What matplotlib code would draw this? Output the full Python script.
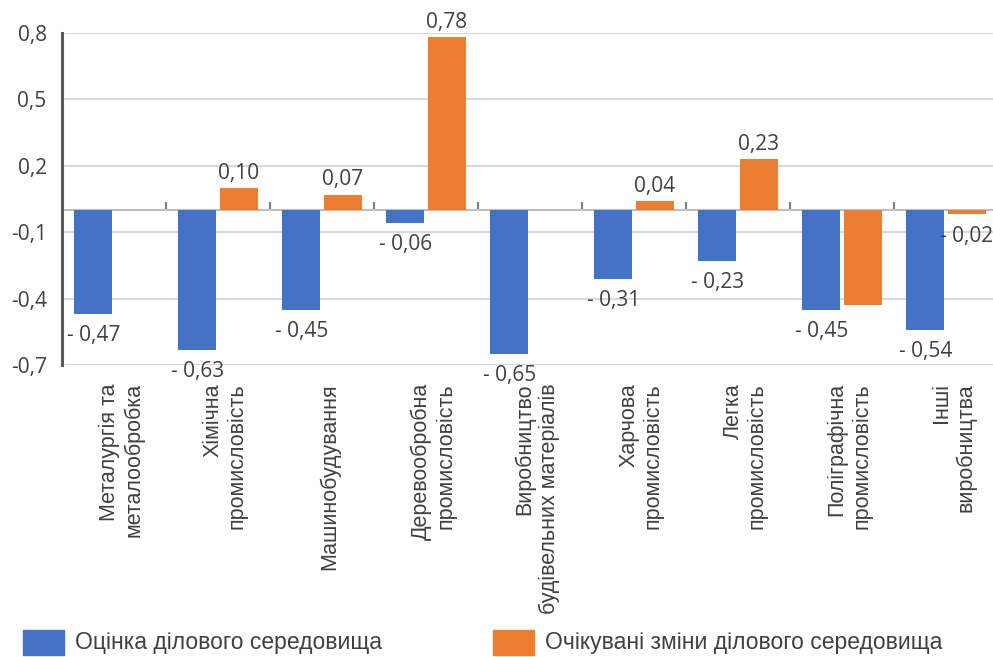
import numpy as np
import matplotlib.pyplot as plt
from matplotlib.patches import Rectangle

categories = [
    "Металургія та\nметалообробка",
    "Хімічна\nпромисловість",
    "Машинобудування",
    "Деревообробна\nпромисловість",
    "Виробництво\nбудівельних матеріалів",
    "Харчова\nпромисловість",
    "Легка\nпромисловість",
    "Поліграфічна\nпромисловість",
    "Інші\nвиробництва",
]
assessment = [-0.47, -0.63, -0.45, -0.06, -0.65, -0.31, -0.23, -0.45, -0.54]
expected = [np.nan, 0.10, 0.07, 0.78, np.nan, 0.04, 0.23, -0.43, -0.02]
expected_labelled = [False, True, True, True, False, True, True, False, True]
series_names = ["Оцінка ділового середовища", "Очікувані зміни ділового середовища"]
yticks = [0.8, 0.5, 0.2, -0.1, -0.4, -0.7]

BLUE = "#4472C4"
ORANGE = "#ED7D31"
TEXT = "#404040"
NUM_FONT = ["Open Sans", "DejaVu Sans"]
CAT_FONT = ["Liberation Sans", "DejaVu Sans"]


def fmt(v):
    s = f"{abs(v):.2f}".replace(".", ",")
    return f"- {s}" if v < 0 else s


def label_bar(xpos, v):
    ax.annotate(fmt(v), (xpos, v), xytext=(0, -8 if v < 0 else 3),
                textcoords="offset points", ha="center",
                va="top" if v < 0 else "bottom", fontsize=15,
                color=TEXT, family=NUM_FONT, zorder=4)


fig = plt.figure(figsize=(9.93, 6.57), dpi=100)
ax = fig.add_axes([62 / 993, 1 - 365 / 657, 936 / 993, 332 / 657])

x = np.arange(len(categories))
w = 0.365
off = 0.2
ax.bar(x - off, assessment, w, color=BLUE, zorder=3)
ax.bar(x + off, expected, w, color=ORANGE, zorder=3)

for xi, v in zip(x, assessment):
    label_bar(xi - off, v)
for xi, v, show in zip(x, expected, expected_labelled):
    if show and not np.isnan(v):
        label_bar(xi + off, v)

ax.set_xlim(-0.5, len(categories) - 0.5)
ax.set_ylim(-0.7, 0.8)
ax.set_yticks(yticks)
ax.set_yticklabels([f"{t:.1f}".replace(".", ",") for t in yticks],
                   fontsize=15, color=TEXT, family=NUM_FONT)
ax.tick_params(axis="y", length=0, pad=11)
ax.grid(axis="y", color="#d9d9d9", linewidth=1.5, zorder=0)

# x axis line at zero with ticks between categories
ax.spines["bottom"].set_position(("data", 0))
ax.spines["bottom"].set_color("#bfbfbf")
ax.spines["bottom"].set_linewidth(1.5)
ax.spines["bottom"].set_zorder(2)
ax.set_xticks(x[1:] - 0.5)
ax.set_xticklabels([])
ax.tick_params(axis="x", direction="in", length=6, width=1.5, color="#7f7f7f")
for s in ["top", "right"]:
    ax.spines[s].set_visible(False)
ax.spines["left"].set_color("#595959")
ax.spines["left"].set_linewidth(2.2)

# category labels under the plot
for xi, lab in zip(x, categories):
    ax.annotate(lab, (xi + 0.07, 0), xycoords=("data", "axes fraction"),
                xytext=(0, -13), textcoords="offset points", rotation=90,
                ha="center", va="top", multialignment="right",
                fontsize=15.5, color=TEXT, family=CAT_FONT, linespacing=1.2)

# legend
for (x0, tx), col, name in zip([(23, 75), (493, 545)], [BLUE, ORANGE], series_names):
    fig.add_artist(Rectangle((x0 / 993, 1 - 655 / 657), 41 / 993, 25 / 657,
                             transform=fig.transFigure, color=col))
    fig.text(tx / 993, 1 - 642 / 657, name, fontsize=16.5, color=TEXT,
             family=CAT_FONT, va="center", ha="left")

fig.savefig("out.png", dpi=100)
